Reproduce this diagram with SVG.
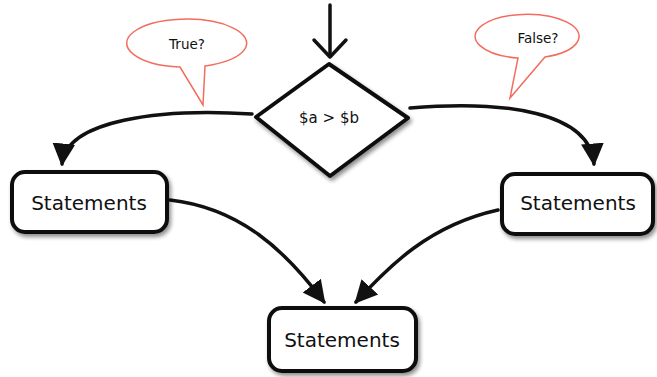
<svg xmlns="http://www.w3.org/2000/svg" width="657" height="377" viewBox="0 0 657 377">
  <style>
    .node { fill: #ffffff; stroke: #111111; stroke-width: 4; stroke-linejoin: round; filter: url(#shadow); }
    .label { font-family: "DejaVu Sans", "Liberation Sans", sans-serif; fill: #111111; text-anchor: middle; dominant-baseline: central; }
    .big { font-size: 20px; }
    .small { font-size: 13.5px; }
    .bubble { fill: #ffffff; stroke: #f26d5f; stroke-width: 1.5; stroke-linejoin: miter; }
    .conn { fill: none; stroke: #111111; stroke-width: 3.5; stroke-linecap: round; }
  </style>
  <defs>
    <filter id="shadow" x="-20%" y="-20%" width="140%" height="150%">
      <feGaussianBlur in="SourceAlpha" stdDeviation="2"/>
      <feOffset dx="2" dy="3" result="b"/>
      <feComponentTransfer><feFuncA type="linear" slope="0.45"/></feComponentTransfer>
      <feMerge><feMergeNode/><feMergeNode in="SourceGraphic"/></feMerge>
    </filter>
    <marker id="tri" viewBox="0 0 10 10" refX="9" refY="5" markerWidth="6.5" markerHeight="7" markerUnits="strokeWidth" orient="auto">
      <path d="M0,0 L10,5 L0,10 z" fill="#111111"/>
    </marker>
  </defs>

  <g id="connectors">
    <path class="conn" d="M330,5 L330,56"/>
    <path class="conn" d="M314,40 L330,57 L346,40" stroke-linejoin="round"/>
    <path class="conn" d="M252,114 C160,108 66,120 62,164" marker-end="url(#tri)"/>
    <path class="conn" d="M410,108 C505,100 590,112 594,164" marker-end="url(#tri)"/>
    <path class="conn" d="M170,200 C240,208 285,250 324,302" marker-end="url(#tri)"/>
    <path class="conn" d="M498,210 C430,225 390,265 356,302" marker-end="url(#tri)"/>
  </g>

  <g id="bubble-true">
    <path class="bubble" d="M180,67 A60,24 0 1 1 205,66 L203,105 Z"/>
    <text class="label small" x="187" y="44">True?</text>
  </g>

  <g id="bubble-false">
    <path class="bubble" d="M518,58 A52,22 0 1 1 545,57 L510,98 Z"/>
    <text class="label small" x="538" y="38">False?</text>
  </g>

  <g id="decision">
    <polygon class="node" points="329,64 408,118 330,176 256,117"/>
    <text class="label" x="329" y="118" font-size="15">$a &gt; $b</text>
  </g>

  <g id="statements-left">
    <rect class="node" x="12" y="172" width="155" height="60" rx="13"/>
    <text class="label big" x="89" y="203">Statements</text>
  </g>

  <g id="statements-right">
    <rect class="node" x="502" y="174" width="151" height="60" rx="13"/>
    <text class="label big" x="578" y="203">Statements</text>
  </g>

  <g id="statements-bottom">
    <rect class="node" x="269" y="308" width="147" height="63" rx="13"/>
    <text class="label big" x="342" y="340">Statements</text>
  </g>
</svg>
